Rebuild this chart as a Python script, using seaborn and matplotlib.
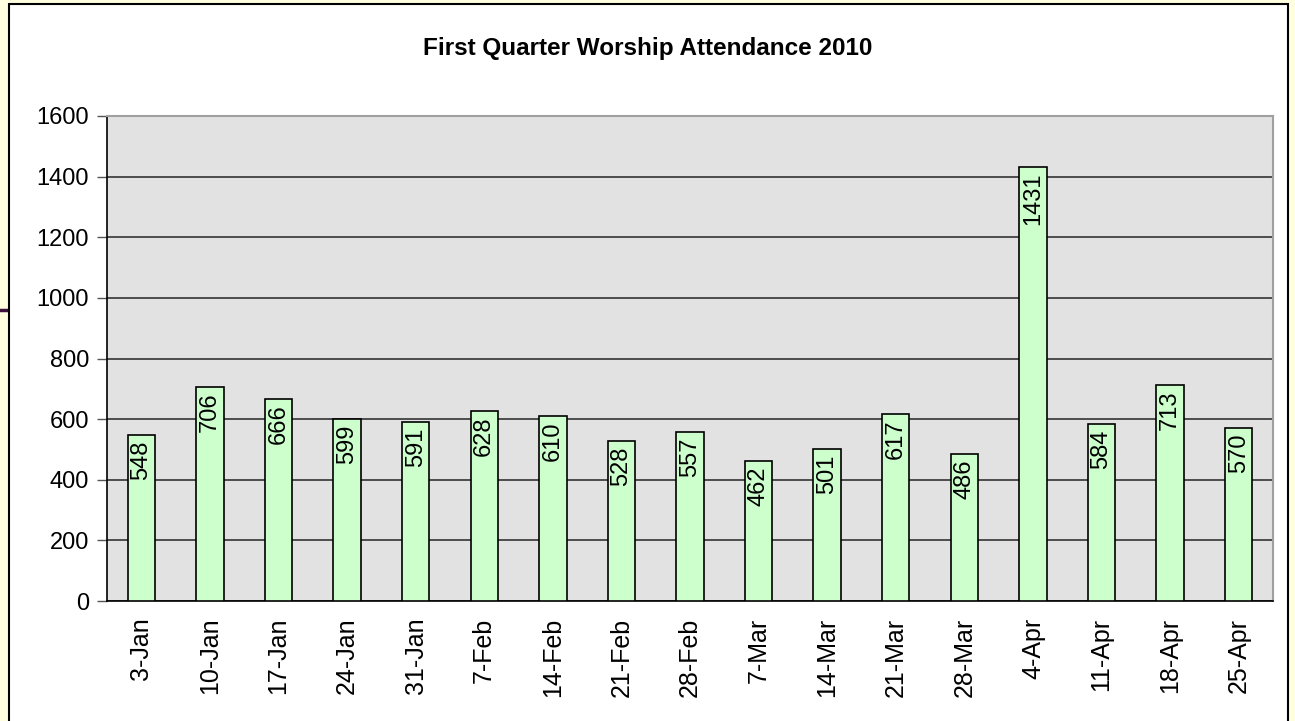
import numpy as np
import pandas as pd
import seaborn as sns
import matplotlib.pyplot as plt
from matplotlib.patches import Rectangle
from matplotlib.lines import Line2D

dates = ['3-Jan', '10-Jan', '17-Jan', '24-Jan', '31-Jan', '7-Feb', '14-Feb', '21-Feb',
         '28-Feb', '7-Mar', '14-Mar', '21-Mar', '28-Mar', '4-Apr', '11-Apr', '18-Apr', '25-Apr']
attendance = [548, 706, 666, 599, 591, 628, 610, 528, 557, 462, 501, 617, 486, 1431, 584, 713, 570]
y_ticks = [0, 200, 400, 600, 800, 1000, 1200, 1400, 1600]

df = pd.DataFrame({'Date': dates, 'Attendance': attendance})

sns.set_style('white')
plt.rcParams['font.family'] = ['Liberation Sans', 'DejaVu Sans']
plt.rcParams['text.color'] = 'black'
plt.rcParams['xtick.color'] = 'black'
plt.rcParams['ytick.color'] = 'black'

W, H = 1295, 721
fig = plt.figure(figsize=(W / 100, H / 100), dpi=100, facecolor='#FFFFE0')

# white chart frame and the little slide decoration on the left
fig.patches.append(Rectangle((9 / W, -0.05), (1288 - 9) / W, 1.05 - 4 / H,
                             transform=fig.transFigure, facecolor='white',
                             edgecolor='black', linewidth=1.5, zorder=-1))
fig.lines.append(Line2D([0, 9 / W], [1 - 310 / H, 1 - 310 / H], transform=fig.transFigure,
                        color='#3D0F3D', linewidth=2.5, zorder=-1))

ax = fig.add_axes([107 / W, 1 - 601 / H, (1273 - 107) / W, (601 - 116) / H])
ax.set_zorder(2)
ax.set_facecolor('#E2E2E2')

sns.barplot(data=df, x='Date', y='Attendance', width=0.4, color='#CCFFCC',
            edgecolor='black', linewidth=1.2, saturation=1, ax=ax, zorder=3)

ax.set_ylim(0, 1600)
ax.set_xlim(-0.5, len(dates) - 0.5)
ax.set_yticks(y_ticks)
ax.set_yticklabels([str(v) for v in y_ticks], fontsize=17)
ax.yaxis.grid(True, color='#333333', linewidth=1.2, zorder=1)
ax.set_axisbelow(True)

ax.set_xticks(range(len(dates)))
ax.set_xticklabels(dates, rotation=90, fontsize=18)
ax.tick_params(axis='x', which='major', length=0, pad=12)
ax.set_xticks(np.arange(-0.5, len(dates), 1), minor=True)
ax.tick_params(axis='x', which='minor', length=7, width=1, color='#555555', direction='out')
ax.tick_params(axis='y', length=7, width=1, color='#555555', direction='out', left=True, pad=6)

ax.set_xlabel('')
ax.set_ylabel('')

for s in ['top', 'right']:
    ax.spines[s].set_color('#A0A0A0')
    ax.spines[s].set_linewidth(1.5)
for s in ['left', 'bottom']:
    ax.spines[s].set_color('black')
    ax.spines[s].set_linewidth(1.2)

for i, v in enumerate(attendance):
    ax.annotate(str(v), (i, v), xytext=(0, -4), textcoords='offset points',
                rotation=90, ha='center', va='top', fontsize=17, zorder=4)

fig.text(0.5, 1 - 48 / H, 'First Quarter Worship Attendance 2010',
         ha='center', va='center', fontsize=17.5, fontweight='bold')

fig.savefig('out.png', dpi=100, facecolor=fig.get_facecolor())
